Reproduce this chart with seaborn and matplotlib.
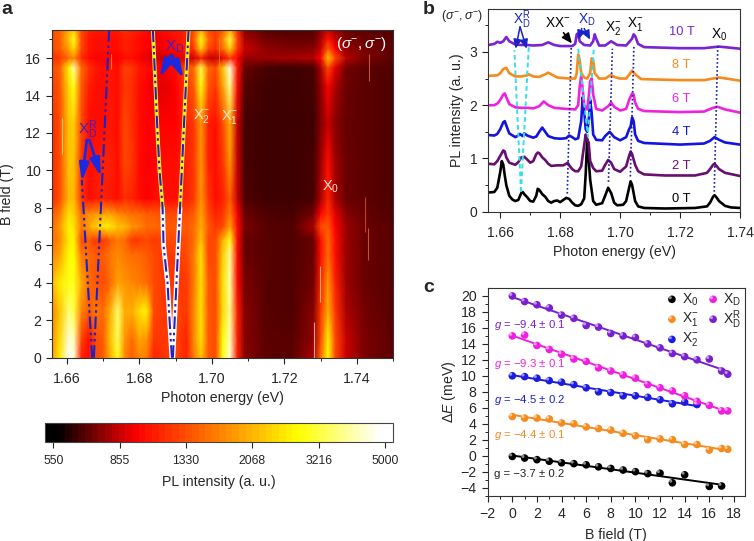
# PL map, spectra and valley Zeeman shift panels
import numpy as np
import pandas as pd
import matplotlib
matplotlib.use('Agg')
import matplotlib.pyplot as plt
import seaborn as sns
from matplotlib.colors import LinearSegmentedColormap, LogNorm
from matplotlib.ticker import MultipleLocator, NullLocator
from matplotlib.transforms import ScaledTranslation

# ---- panel a data ----
map_energy = [1.656, 1.658, 1.6605, 1.662, 1.664, 1.666, 1.668, 1.670, 1.672, 1.674, 1.676, 1.678,
              1.680, 1.682, 1.684, 1.687, 1.690, 1.693, 1.695, 1.697, 1.699, 1.701, 1.703, 1.705,
              1.707, 1.709, 1.715, 1.722, 1.728, 1.730, 1.732, 1.734, 1.737, 1.742, 1.750]
map_field = [0, 1, 2.5, 4, 5.5, 6.3, 7, 7.7, 8.5, 10.5, 12.5, 14.5, 15.5, 16, 16.5, 17, 17.5]
map_intensity = [
    [1900,2600,4800,4500,1100,1000,1300,1400,2000,3000,1700,1400,1700,1600,1100,1200,1300,1100,1600,2200,1400,1300,3000,4500,1100,740,680,670,800,1500,2800,1300,850,720,680],
    [1800,2400,4500,4200,1300,1000,1300,1400,2200,3400,1800,1500,1900,1800,1200,1200,1300,1100,1700,2500,1400,1300,2800,4200,1100,740,680,670,760,1300,2700,1300,850,720,680],
    [1700,2200,3600,3300,1700,1400,1600,1500,2000,3600,2000,2000,2500,2700,1300,1200,1300,1200,1700,2500,1400,1300,2400,3800,1100,740,670,660,740,1200,2000,1200,800,710,670],
    [2100,2600,3000,3000,2000,1500,1400,1300,1500,1900,1800,1700,1600,1500,1300,1200,1200,1200,1600,2500,1400,1300,2500,4000,1000,720,670,660,710,1100,1800,1100,780,700,670],
    [1700,1900,2800,2800,1600,1500,1400,1400,1600,1700,1600,1500,1500,1400,1300,1200,1200,1300,1600,2500,1300,1300,2300,3800,1000,700,670,660,700,1000,1500,1000,770,700,670],
    [1500,1700,2600,2700,1300,1400,1200,1200,1400,1600,1500,1200,1200,1300,1200,1300,1300,1300,1500,2200,1300,1300,2000,3000,1000,700,670,660,700,1000,1500,1000,770,700,670],
    [1500,1800,2700,2500,1600,1900,2300,2600,2600,2200,2100,1800,1700,1500,1500,1400,1400,1400,1500,2000,1400,1200,1300,1900,1000,720,670,660,800,1300,1400,950,770,700,670],
    [1400,1600,2500,2300,1500,1700,1800,1900,1900,1700,1600,1500,1500,1400,1400,1300,1300,1300,1400,1900,1300,1100,1200,1600,950,700,660,650,710,950,1200,900,740,690,660],
    [1150,1300,2100,2100,1200,1000,1050,1100,1050,1000,1150,1100,1000,950,1000,1000,1000,1100,1200,1800,1200,1000,1100,1400,850,660,640,640,650,800,1100,800,700,680,660],
    [1150,1300,2200,2200,1200,1000,1050,1100,1100,1000,1300,1200,1000,950,950,1000,1000,1100,1200,1800,1100,1000,1200,1800,850,650,640,640,650,770,1000,780,700,680,660],
    [1150,1300,2200,2300,1300,1000,1000,1000,1050,1000,1300,1150,1000,950,950,950,950,1100,1200,1800,1100,1000,1300,2000,850,650,640,640,640,730,840,740,690,680,660],
    [1250,1350,2400,3000,1400,1100,1000,1000,1050,1000,1200,1150,1000,950,900,900,950,1200,1400,2900,1400,1200,1900,3800,1000,670,640,640,650,750,950,800,700,680,660],
    [1350,1400,2700,4000,1500,1200,1050,1000,1050,1000,1250,1200,1050,1000,950,950,1000,1300,1500,3300,1500,1300,2200,4600,1050,700,650,640,650,800,1300,900,710,680,660],
    [1150,1200,1500,1700,1150,1000,950,950,950,950,1000,1000,950,900,850,850,900,900,850,1100,850,850,900,1200,950,770,770,790,810,950,2200,1300,820,720,680],
    [1300,1400,1900,2400,1300,1050,1000,1000,1000,1000,1100,1050,1000,950,900,950,1000,1050,1200,2300,1300,1150,1500,2300,1200,850,760,730,740,850,1400,950,760,720,680],
    [1300,1400,2200,3000,1300,1050,1000,1000,1000,1000,1100,1050,1000,950,900,950,1000,1100,1400,3000,1500,1200,1700,3200,1300,800,710,690,690,800,1050,850,720,700,670],
    [1350,1450,2000,2300,1300,1100,1050,1050,1050,1050,1150,1100,1050,1000,950,1000,1050,1100,1300,2000,1300,1200,1400,2000,1150,750,670,660,670,750,850,780,700,680,660],
]
cbar_ticks = [550, 855, 1330, 2068, 3216, 5000]

# ridges of the split XD and XDR lines
xd_field = [0, 2, 4, 6, 8, 10, 12, 14, 16, 17.5]
xd_left = [1.68897, 1.68832, 1.68777, 1.68667, 1.6864, 1.68556, 1.68501, 1.68455, 1.68409, 1.68372]
xd_right = [1.68924, 1.68973, 1.69023, 1.69072, 1.69121, 1.69170, 1.69219, 1.69269, 1.69318, 1.69356]
xdr_left_field = [0, 9.5]
xdr_left = [1.66699, 1.66414]
xdr_right_field = [0, 9.8, 17.5]
xdr_right = [1.66745, 1.66984, 1.67168]

# thin bright streaks in the map
streak_energy = [1.6587, 1.7282, 1.7297, 1.7432, 1.7423, 1.7430, 1.7020, 1.6722]
streak_low = [10.9, 0.0, 3.0, 14.8, 6.7, 5.2, 15.4, 15.4]
streak_high = [12.8, 1.9, 4.9, 16.2, 8.6, 6.9, 17.0, 16.2]
streak_color = ['#fff4a0', 'white', '#fff4a0', '#ff9040', '#ff7020', '#ff9040', '#ff9040', '#ffc040']

# ---- panel b data ----
e_0t = [1.656,1.658,1.659,1.660,1.6605,1.661,1.6615,1.662,1.663,1.664,1.665,1.666,1.667,1.6675,1.668,1.669,1.670,1.671,1.672,1.6725,1.673,1.674,1.675,1.676,1.677,1.678,1.679,1.680,1.681,1.682,1.683,1.684,1.685,1.686,1.687,1.688,1.6885,1.689,1.690,1.691,1.692,1.694,1.695,1.696,1.697,1.698,1.699,1.701,1.702,1.703,1.7035,1.704,1.705,1.706,1.708,1.715,1.725,1.729,1.730,1.731,1.7315,1.732,1.733,1.735,1.737,1.74]
i_0t = [.36,.37,.45,.75,.95,.88,.68,.5,.3,.23,.2,.22,.35,.37,.33,.27,.2,.19,.3,.43,.41,.33,.28,.2,.17,.2,.21,.18,.22,.26,.24,.17,.12,.11,.14,.25,.7,1.37,.6,.2,.13,.16,.3,.45,.35,.17,.12,.13,.2,.45,.57,.5,.2,.1,.07,.06,.07,.1,.17,.28,.31,.28,.2,.11,.08,.07]
e_2t = [1.656,1.658,1.659,1.660,1.661,1.6615,1.662,1.663,1.665,1.666,1.667,1.668,1.669,1.670,1.671,1.672,1.6725,1.673,1.674,1.675,1.676,1.677,1.679,1.681,1.682,1.6825,1.683,1.684,1.685,1.686,1.687,1.688,1.6885,1.689,1.6895,1.690,1.691,1.692,1.694,1.695,1.696,1.697,1.698,1.700,1.702,1.703,1.7035,1.704,1.705,1.706,1.708,1.715,1.725,1.729,1.730,1.731,1.7315,1.732,1.733,1.735,1.74]
i_2t = [.9,.89,.95,1.05,1.15,1.13,1.02,.92,.88,.93,1.02,1.03,.98,.92,.95,1.08,1.11,1.1,1.02,.97,.9,.86,.87,.87,.9,.92,.87,.8,.76,.76,.85,1.25,1.45,1.35,1.3,.95,.82,.76,.77,.88,.97,.92,.8,.75,.85,1.05,1.13,1.08,.88,.76,.7,.68,.68,.73,.8,.88,.9,.87,.8,.73,.67]
e_4t = [1.656,1.658,1.659,1.660,1.661,1.6615,1.662,1.663,1.665,1.666,1.6665,1.667,1.6675,1.668,1.669,1.671,1.672,1.673,1.674,1.675,1.676,1.678,1.680,1.682,1.683,1.684,1.685,1.686,1.687,1.6875,1.688,1.6885,1.689,1.6895,1.690,1.6905,1.691,1.692,1.694,1.695,1.6965,1.698,1.700,1.702,1.703,1.7035,1.704,1.7045,1.705,1.706,1.708,1.72,1.728,1.730,1.7315,1.733,1.735,1.74]
i_4t = [1.44,1.43,1.46,1.55,1.68,1.7,1.62,1.47,1.4,1.43,1.46,1.44,1.42,1.47,1.43,1.39,1.41,1.5,1.58,1.5,1.42,1.38,1.37,1.38,1.43,1.4,1.36,1.38,1.7,2.15,1.9,1.55,1.5,1.7,2.1,1.85,1.45,1.35,1.34,1.42,1.5,1.4,1.34,1.4,1.55,1.6,1.77,1.7,1.45,1.33,1.29,1.26,1.28,1.33,1.4,1.35,1.3,1.26]
e_6t = [1.656,1.658,1.659,1.660,1.661,1.6615,1.662,1.663,1.665,1.667,1.669,1.671,1.673,1.6745,1.676,1.678,1.682,1.685,1.686,1.6865,1.687,1.6875,1.688,1.689,1.6895,1.690,1.6905,1.691,1.692,1.694,1.696,1.697,1.698,1.700,1.702,1.703,1.704,1.7045,1.705,1.706,1.708,1.72,1.728,1.731,1.7325,1.735,1.74]
i_6t = [2.0,2.0,2.03,2.1,2.2,2.22,2.15,2.02,1.96,1.95,1.95,1.94,1.98,2.07,2.0,1.95,1.93,1.92,2.0,2.35,2.55,2.3,2.0,1.92,2.15,2.45,2.5,2.2,1.93,1.9,1.98,2.05,1.97,1.9,1.93,2.1,2.22,2.2,2.05,1.93,1.89,1.87,1.88,1.95,1.97,1.92,1.86]
e_8t = [1.656,1.659,1.660,1.661,1.662,1.663,1.665,1.667,1.669,1.6695,1.671,1.673,1.675,1.676,1.677,1.679,1.683,1.685,1.6855,1.686,1.6865,1.687,1.688,1.689,1.690,1.6905,1.691,1.6915,1.693,1.695,1.697,1.698,1.700,1.702,1.703,1.704,1.705,1.707,1.72,1.728,1.733,1.74]
i_8t = [2.55,2.56,2.6,2.68,2.7,2.6,2.54,2.54,2.56,2.58,2.54,2.53,2.58,2.61,2.58,2.52,2.5,2.5,2.6,2.95,2.85,2.6,2.52,2.5,2.6,2.88,2.85,2.6,2.5,2.5,2.57,2.53,2.5,2.5,2.57,2.65,2.58,2.49,2.47,2.47,2.52,2.46]
e_10t = [1.656,1.658,1.659,1.660,1.661,1.662,1.663,1.665,1.667,1.669,1.671,1.674,1.676,1.678,1.68,1.684,1.685,1.6855,1.686,1.6865,1.688,1.690,1.691,1.6915,1.692,1.693,1.695,1.697,1.699,1.702,1.704,1.7045,1.705,1.706,1.708,1.72,1.728,1.733,1.74]
i_10t = [3.13,3.15,3.19,3.17,3.2,3.28,3.2,3.14,3.13,3.13,3.12,3.13,3.18,3.13,3.11,3.11,3.15,3.33,3.35,3.2,3.13,3.12,3.2,3.33,3.25,3.12,3.12,3.2,3.13,3.12,3.25,3.33,3.3,3.15,3.09,3.07,3.07,3.1,3.06]
field_names = ['0 T', '2 T', '4 T', '6 T', '8 T', '10 T']
label_y = [.24, .86, 1.49, 2.11, 2.75, 3.37]

# guide lines in panel b (energy pairs, intensity pairs)
dot_e = [(1.68235, 1.68369), (1.6961, 1.6974), (1.7034, 1.7046), (1.7314, 1.7326)]
dot_i = [(.34, 3.09), (.56, 3.06), (.66, 3.12), (.375, 3.12)]
cyan_e = [(1.6669, 1.6647), (1.6669, 1.6695), (1.6860, 1.68927), (1.69117, 1.68927)]
cyan_i = [(.375, 3.03), (.375, 3.09), (3.06, 1.4), (3.04, 1.47)]

# ---- panel c data ----
b_x0 = [0,1,2,3,4,5,6,7,8,9,10,11,12,13,14,16,17]
de_x0 = [-.1,-.3,-.5,-.7,-.9,-1.0,-1.15,-1.4,-1.6,-1.8,-2.0,-2.25,-2.2,-3.4,-2.4,-3.85,-3.8]
b_x1 = [0,1,2,3,4,5,6,7,8,9,10,11,12,13,14,15,16,17,17.5]
de_x1 = [4.9,4.7,4.7,4.6,4.1,4.0,3.6,3.4,3.2,2.8,2.5,2.0,2.1,2.0,1.4,1.4,.7,.9,.8]
b_x2 = [0,1,2,3,4,5,6,7,8,9,10,11,12,13,14,15]
de_x2 = [10,9.9,9.7,9.4,9.2,8.9,8.5,8.0,7.9,7.5,7.5,7.3,7.0,6.5,6.7,6.4]
b_xd = [0,1,2,3,4,5,6,7,8,9,10,11,12,13,14,15,16,17,17.5]
de_xd = [15,15.1,13.8,13.3,12.7,12.1,11.8,11,10.6,10.1,9.7,8.9,8.5,8.1,7.5,6.8,6.3,5.6,5.6]
b_xdr = [0,1,2,3,4,5,6,7,8,9,10,11,12,13,14,15,16,17,17.5]
de_xdr = [20,19.3,18.9,18.5,17.6,17.2,16.3,16.1,15.3,15,14.8,14,13.5,12.8,12.4,12,12.1,10.6,10.2]

sns.set_theme(style='ticks')
plt.rcParams['font.family'] = ['Liberation Sans', 'DejaVu Sans']
plt.rcParams['mathtext.fontset'] = 'custom'
plt.rcParams['mathtext.rm'] = 'Liberation Sans'
plt.rcParams['mathtext.it'] = 'Liberation Sans:italic'
plt.rcParams['mathtext.bf'] = 'Liberation Sans:bold'
plt.rcParams['axes.edgecolor'] = '#333333'
plt.rcParams['axes.linewidth'] = 0.8

W, H = 754, 541
fig = plt.figure(figsize=(W / 100, H / 100), dpi=100)


def px_axes(left, top, right, bottom):
    return fig.add_axes([left / W, 1 - bottom / H, (right - left) / W, (bottom - top) / H])


def tick_style(ax, size=10.2, xpad=5):
    ax.tick_params(which='major', length=4, width=0.8, labelsize=size, color='#222222')
    ax.tick_params(which='minor', length=2.2, width=0.7, color='#222222')
    ax.tick_params(axis='x', which='major', pad=xpad)
    ax.tick_params(axis='y', which='major', pad=4)


# ---- panel a ----
ax_a = px_axes(52.3, 30, 393.3, 357.7)
vmin, vmax = 520, 5260
stops = [(0, '#000000'), (.03, '#000000'), (.26, '#ff0000'), (.735, '#ffff00'), (.97, '#ffffff'), (1, '#ffffff')]
pl_cmap = LinearSegmentedColormap.from_list('pl', stops, N=52)
norm = LogNorm(vmin=vmin, vmax=vmax)
mesh = ax_a.pcolormesh(map_energy, map_field, np.array(map_intensity, dtype=float), cmap=LinearSegmentedColormap.from_list('pl_fine', stops, N=256),
                       norm=norm, shading='gouraud')
ax_a.vlines(streak_energy, streak_low, streak_high, colors=streak_color, linewidth=0.8, alpha=0.6)

# bright ridges below the guide lines, white at low field and yellow above
for ridge in (xd_left, xd_right):
    sns.lineplot(x=ridge[:5], y=xd_field[:5], ax=ax_a, color='white', lw=3.4, sort=False, estimator=None)
    sns.lineplot(x=ridge[4:], y=xd_field[4:], ax=ax_a, color='#ffee20', lw=2.8, sort=False, estimator=None)
dash = (0, (6, 1.8, 1.2, 1.8, 1.2, 1.8))
for ex, fx in ((xd_left, xd_field), (xd_right, xd_field), (xdr_left, xdr_left_field), (xdr_right, xdr_right_field)):
    sns.lineplot(x=ex, y=fx, ax=ax_a, color='#1a22c8', lw=1.5, sort=False, estimator=None, linestyle=dash)

arrow = dict(arrowstyle='-|>,head_width=0.24,head_length=0.9', color='#1a2ae0', lw=2.0, shrinkA=0, shrinkB=0)
for tail, head in (((1.66552, 11.62), (1.66414, 9.4)), ((1.66625, 11.62), (1.66938, 9.66)),
                   ((1.68869, 16.16), (1.68556, 14.96)), ((1.68897, 16.16), (1.69218, 14.9))):
    ax_a.annotate('', xy=head, xytext=tail, arrowprops=arrow)
ax_a.text(1.6657, 12.2, r'X$_{\mathrm{D}}^{\mathrm{R}}$', color='#3a22d0', fontsize=11, ha='center', va='center')
ax_a.text(1.6897, 16.6, r'X$_{\mathrm{D}}$', color='#3a22d0', fontsize=11, ha='center', va='center')
ax_a.text(1.6972, 12.9, r'X$_{2}^{-}$', color='#ffe8d8', fontsize=10.5, ha='center', va='center')
ax_a.text(1.7049, 12.87, r'X$_{1}^{-}$', color='#ffe8d8', fontsize=10.5, ha='center', va='center')
ax_a.text(1.7327, 9.13, r'X$_{0}$', color='#ffe8d8', fontsize=10.5, ha='center', va='center')
ax_a.text(1.7411, 16.74, r'$(\sigma^{-},\sigma^{-})$', color='white', fontsize=11, ha='center', va='center')

ax_a.set_xlim(1.656, 1.75)
ax_a.set_ylim(0, 17.5)
ax_a.xaxis.set_major_locator(MultipleLocator(.02))
ax_a.xaxis.set_minor_locator(MultipleLocator(.01))
ax_a.xaxis.set_major_formatter('{x:.2f}')
ax_a.yaxis.set_major_locator(MultipleLocator(2))
ax_a.yaxis.set_minor_locator(MultipleLocator(1))
tick_style(ax_a, xpad=6)
ax_a.set_xlabel('Photon energy (eV)', fontsize=10.2, labelpad=4)
ax_a.set_ylabel('B field (T)', fontsize=10.2, labelpad=8)

# colour bar
ax_cb = px_axes(45, 423.3, 392.7, 442)
sm = plt.cm.ScalarMappable(norm=norm, cmap=pl_cmap)
cb = fig.colorbar(sm, cax=ax_cb, orientation='horizontal')
cb.set_ticks(cbar_ticks)
cb.set_ticklabels([str(t) for t in cbar_ticks])
ax_cb.xaxis.set_minor_locator(NullLocator())
ax_cb.tick_params(length=4, width=0.8, labelsize=8.8, pad=5)
cb.outline.set_edgecolor('#444444')
cb.set_label('PL intensity (a. u.)', fontsize=10.2, labelpad=6)

# ---- panel b ----
ax_b = px_axes(488.3, 9.3, 740, 211.7)
spectra = [(e_0t, i_0t, '#000000'), (e_2t, i_2t, '#6a0d70'), (e_4t, i_4t, '#1414e0'),
           (e_6t, i_6t, '#ee22dd'), (e_8t, i_8t, '#f78a1c'), (e_10t, i_10t, '#7a22d6')]
for (ex, ix, col), name, ly in zip(spectra, field_names, label_y):
    df = pd.DataFrame({'energy': ex, 'pl': ix})
    sns.lineplot(data=df, x='energy', y='pl', ax=ax_b, color=col, lw=1.9, sort=False, estimator=None)
    ax_b.text(1.7205, ly, name, color=col, fontsize=9.3, ha='center', va='center')
for ex, ix in zip(dot_e, dot_i):
    ax_b.plot(ex, ix, color='#1a1aa8', lw=1.2, linestyle=(0, (1, 1.4)))
for ex, ix in zip(cyan_e, cyan_i):
    ax_b.plot(ex, ix, color='#30e0e8', lw=1.4, linestyle=(0, (2.4, 1.6)))

thin = dict(arrowstyle='-|>,head_width=0.2,head_length=0.45', color='#1a22c8', lw=1.1, shrinkA=0, shrinkB=0)
for tail, head in (((1.6666, 3.47), (1.6651, 3.06)), ((1.6666, 3.47), (1.6688, 3.06)),
                   ((1.6872, 3.44), (1.6861, 3.23)), ((1.6880, 3.44), (1.6900, 3.23))):
    ax_b.annotate('', xy=head, xytext=tail, arrowprops=thin)
ax_b.annotate('', xy=(1.6839, 3.16), xytext=(1.6811, 3.36),
              arrowprops=dict(arrowstyle='-|>,head_width=0.22,head_length=0.5', color='black', lw=1.2, shrinkA=0, shrinkB=0))
ax_b.text(1.6671, 3.6, r'X$_{\mathrm{D}}^{\mathrm{R}}$', color='#1a22c8', fontsize=9.8, ha='center', va='center')
ax_b.text(1.6791, 3.55, r'XX$^{-}$', color='black', fontsize=9.8, ha='center', va='center')
ax_b.text(1.6890, 3.6, r'X$_{\mathrm{D}}$', color='#1a22c8', fontsize=9.8, ha='center', va='center')
ax_b.text(1.6978, 3.45, r'X$_{2}^{-}$', color='black', fontsize=9.8, ha='center', va='center')
ax_b.text(1.7051, 3.52, r'X$_{1}^{-}$', color='black', fontsize=9.8, ha='center', va='center')
ax_b.text(1.7331, 3.33, r'X$_{0}$', color='black', fontsize=9.8, ha='center', va='center')
ax_b.set_xlim(1.656, 1.74)
ax_b.set_ylim(0, 3.8)
ax_b.xaxis.set_major_locator(MultipleLocator(.02))
ax_b.xaxis.set_minor_locator(MultipleLocator(.01))
ax_b.xaxis.set_major_formatter('{x:.2f}')
ax_b.yaxis.set_major_locator(MultipleLocator(1))
ax_b.yaxis.set_minor_locator(MultipleLocator(.5))
tick_style(ax_b, 10, xpad=6)
ax_b.set_xlabel('Photon energy (eV)', fontsize=10.2, labelpad=4)
ax_b.set_ylabel('PL intensity (a. u.)', fontsize=10.2, labelpad=4)

# ---- panel c ----
ax_c = px_axes(487.7, 288.3, 745, 496)
groups = [(b_x0, de_x0, '#000000', r'X$_{0}$'), (b_x1, de_x1, '#f58a1f', r'X$_{1}^{-}$'),
          (b_x2, de_x2, '#1c1ce0', r'X$_{2}^{-}$'), (b_xd, de_xd, '#f01fe0', r'X$_{\mathrm{D}}$'),
          (b_xdr, de_xdr, '#7a1fd0', r'X$_{\mathrm{D}}^{\mathrm{R}}$')]
legend_spots = [(.716, .947), (.716, .851), (.716, .754), (.876, .947), (.876, .851)]
shine = ax_c.transData + ScaledTranslation(-1.2 / 72, 1.2 / 72, fig.dpi_scale_trans)
shine_key = ax_c.transAxes + ScaledTranslation(-1.2 / 72, 1.2 / 72, fig.dpi_scale_trans)
for (bx, dex, col, name), (lx, ly) in zip(groups, legend_spots):
    sns.regplot(x=np.array(bx, dtype=float), y=np.array(dex), ax=ax_c, scatter=False, ci=None, truncate=True,
                color=col, line_kws={'lw': 1.4})
    sns.scatterplot(x=bx, y=dex, ax=ax_c, color=col, s=30, edgecolor='none', zorder=3)
    ax_c.scatter(bx, dex, s=5, color='white', alpha=0.55, edgecolor='none', transform=shine, zorder=4)
    # hand placed key, two columns as in the figure
    ax_c.scatter([lx], [ly], s=30, color=col, edgecolor='none', transform=ax_c.transAxes, zorder=3)
    ax_c.scatter([lx], [ly], s=5, color='white', alpha=0.55, edgecolor='none', transform=shine_key, zorder=4)
    ax_c.text(lx + .04, ly, name, fontsize=10, va='center', ha='left', transform=ax_c.transAxes)

g_labels = [(16.4, r'$g$ = −9.4 ± 0.1', '#7a1fd0'), (11.45, r'$g$ = −9.3 ± 0.1', '#f01fe0'),
            (7.0, r'$g$ = −4.5 ± 0.2', '#1c1ce0'), (2.6, r'$g$ = −4.4 ± 0.1', '#f58a1f'),
            (-2.3, 'g = −3.7 ± 0.2', '#222222')]
for gy, txt, col in g_labels:
    ax_c.text(-1.45, gy, txt, color=col, fontsize=8.2, va='center', ha='left')
ax_c.set_xlim(-2, 18.9)
ax_c.set_ylim(-5.05, 20.96)
ax_c.xaxis.set_major_locator(MultipleLocator(2))
ax_c.xaxis.set_minor_locator(MultipleLocator(1))
ax_c.yaxis.set_major_locator(MultipleLocator(2))
ax_c.yaxis.set_minor_locator(MultipleLocator(1))
ax_c.xaxis.set_major_formatter(lambda v, p: f'{v:.0f}'.replace('-', '−'))
ax_c.yaxis.set_major_formatter(lambda v, p: f'{v:.0f}'.replace('-', '−'))
tick_style(ax_c, 10.2, xpad=4)
ax_c.set_xlabel('B field (T)', fontsize=10.2, labelpad=5)
ax_c.set_ylabel(r'Δ$E$ (meV)', fontsize=10.2, labelpad=2)

# panel letters and the polarisation tag of b
fig.text(1 / W, 1 - 10 / H, 'a', fontsize=14, fontweight='bold', va='center')
fig.text(423 / W, 1 - 10 / H, 'b', fontsize=14, fontweight='bold', va='center')
fig.text(423 / W, 1 - 287 / H, 'c', fontsize=14, fontweight='bold', va='center')
fig.text(462 / W, 1 - 16 / H, r'$(\sigma^{-},\sigma^{-})$', fontsize=9, va='center', ha='center')

fig.savefig('out.png', dpi=100)
